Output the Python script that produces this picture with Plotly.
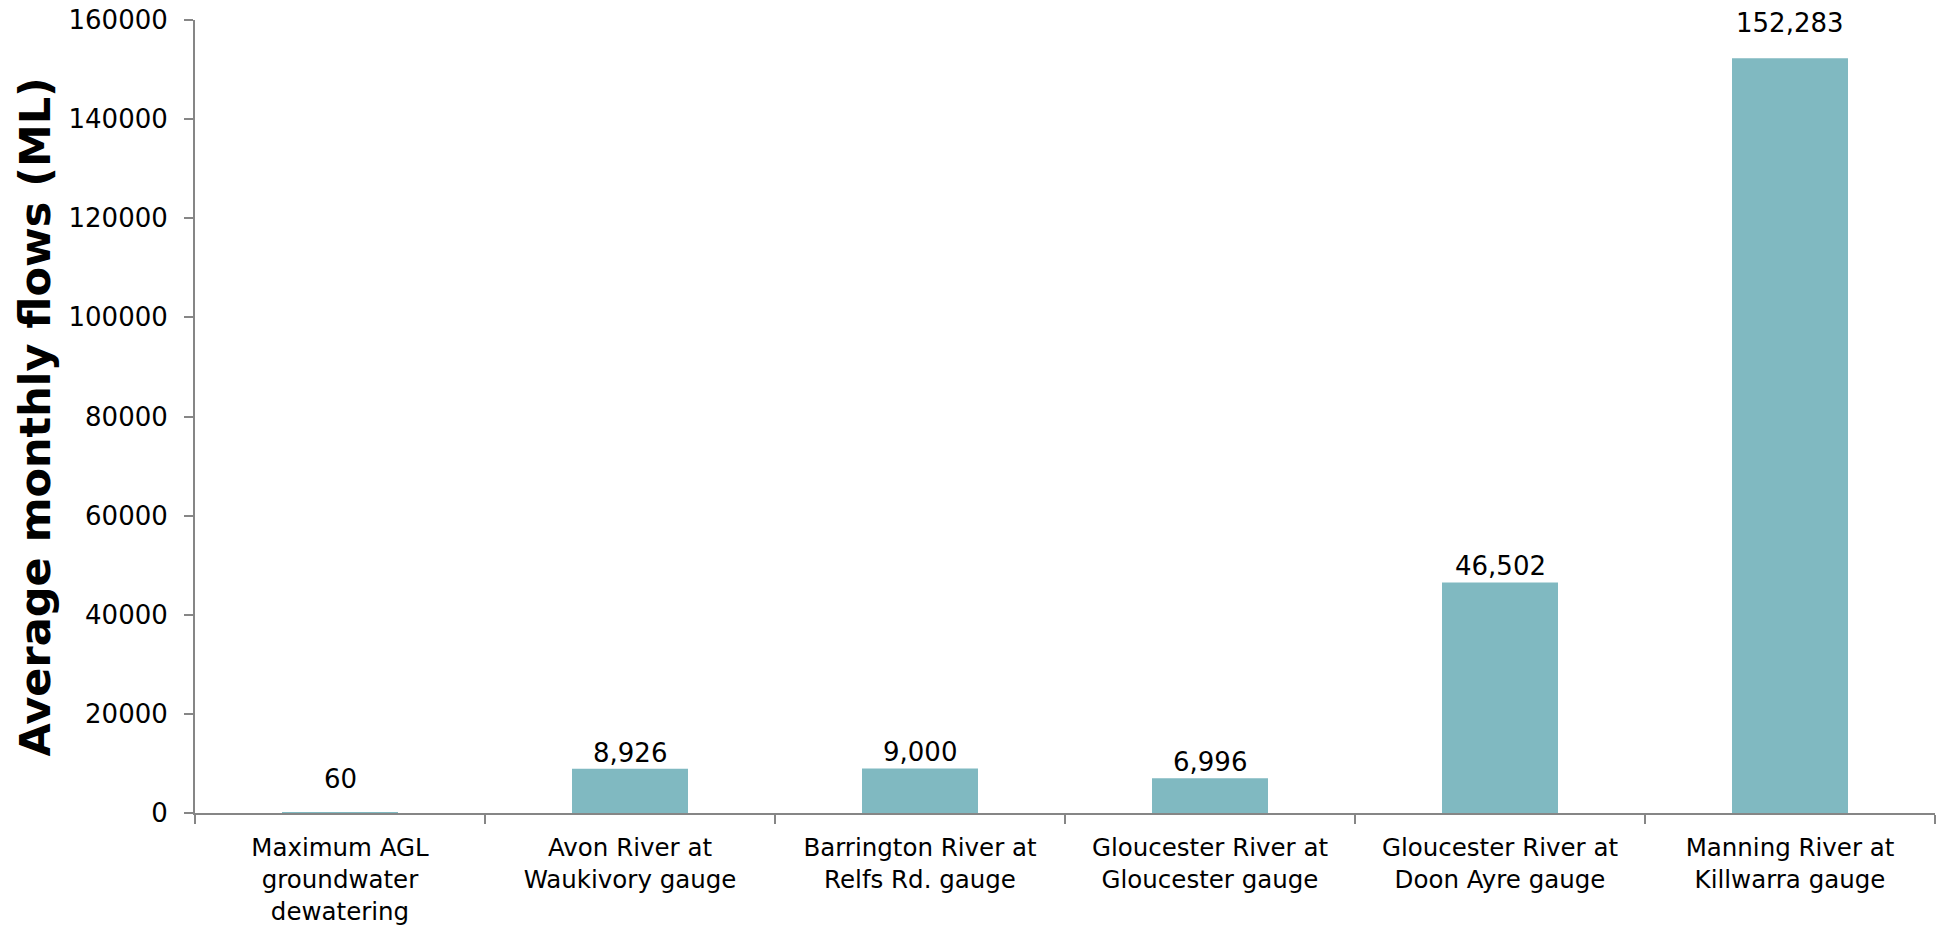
import plotly.graph_objects as go

categories = [
    "Maximum AGL<br>groundwater<br>dewatering",
    "Avon River at<br>Waukivory gauge",
    "Barrington River at<br>Relfs Rd. gauge",
    "Gloucester River at<br>Gloucester gauge",
    "Gloucester River at<br>Doon Ayre gauge",
    "Manning River at<br>Killwarra gauge",
]
flows = [60, 8926, 9000, 6996, 46502, 152283]
label_shift = [34, 16, 16, 16, 17, 35]

y_ticks = [0, 20000, 40000, 60000, 80000, 100000, 120000, 140000, 160000]

BAR = "#80B9C1"
AXIS = "#868686"
FONT = "DejaVu Sans"

fig = go.Figure()
fig.add_trace(go.Bar(
    x=categories, y=flows,
    marker=dict(color=BAR, line=dict(width=0)),
    width=0.4,
    hoverinfo="skip",
))

for c, v, s in zip(categories, flows, label_shift):
    fig.add_annotation(
        x=c, y=v, xref="x", yref="y",
        text=f"{v:,}", showarrow=False,
        yanchor="middle", xanchor="center", yshift=s,
        font=dict(family=FONT, size=26, color="#000000"),
    )

fig.add_annotation(
    xref="paper", yref="paper", x=-0.092, y=0.5,
    text="<b>Average monthly flows (ML)</b>", textangle=-90,
    showarrow=False, xanchor="center", yanchor="middle",
    font=dict(family=FONT, size=43, color="#000000"),
)

fig.update_layout(
    width=1948, height=928,
    margin=dict(l=195, r=13, t=20, b=115, pad=0, autoexpand=False),
    paper_bgcolor="white", plot_bgcolor="white",
    showlegend=False,
    bargap=0.6,
)
fig.update_xaxes(
    type="category", automargin=False,
    showline=True, linecolor=AXIS, linewidth=2,
    ticks="outside", tickson="boundaries", ticklen=9, tickcolor=AXIS, tickwidth=2,
    tickfont=dict(family=FONT, size=24.5, color="#000000"),
    ticklabelstandoff=12, ticklabeloverflow="allow",
    showgrid=False, zeroline=False,
)
fig.update_yaxes(
    range=[0, 160000], tickvals=y_ticks, tickformat="d", automargin=False,
    showline=True, linecolor=AXIS, linewidth=2,
    ticks="outside", ticklen=9, tickcolor=AXIS, tickwidth=2,
    tickfont=dict(family=FONT, size=26, color="#000000"),
    ticklabelstandoff=11, ticklabeloverflow="allow",
    showgrid=False, zeroline=False,
)

fig.write_html("out.html")
